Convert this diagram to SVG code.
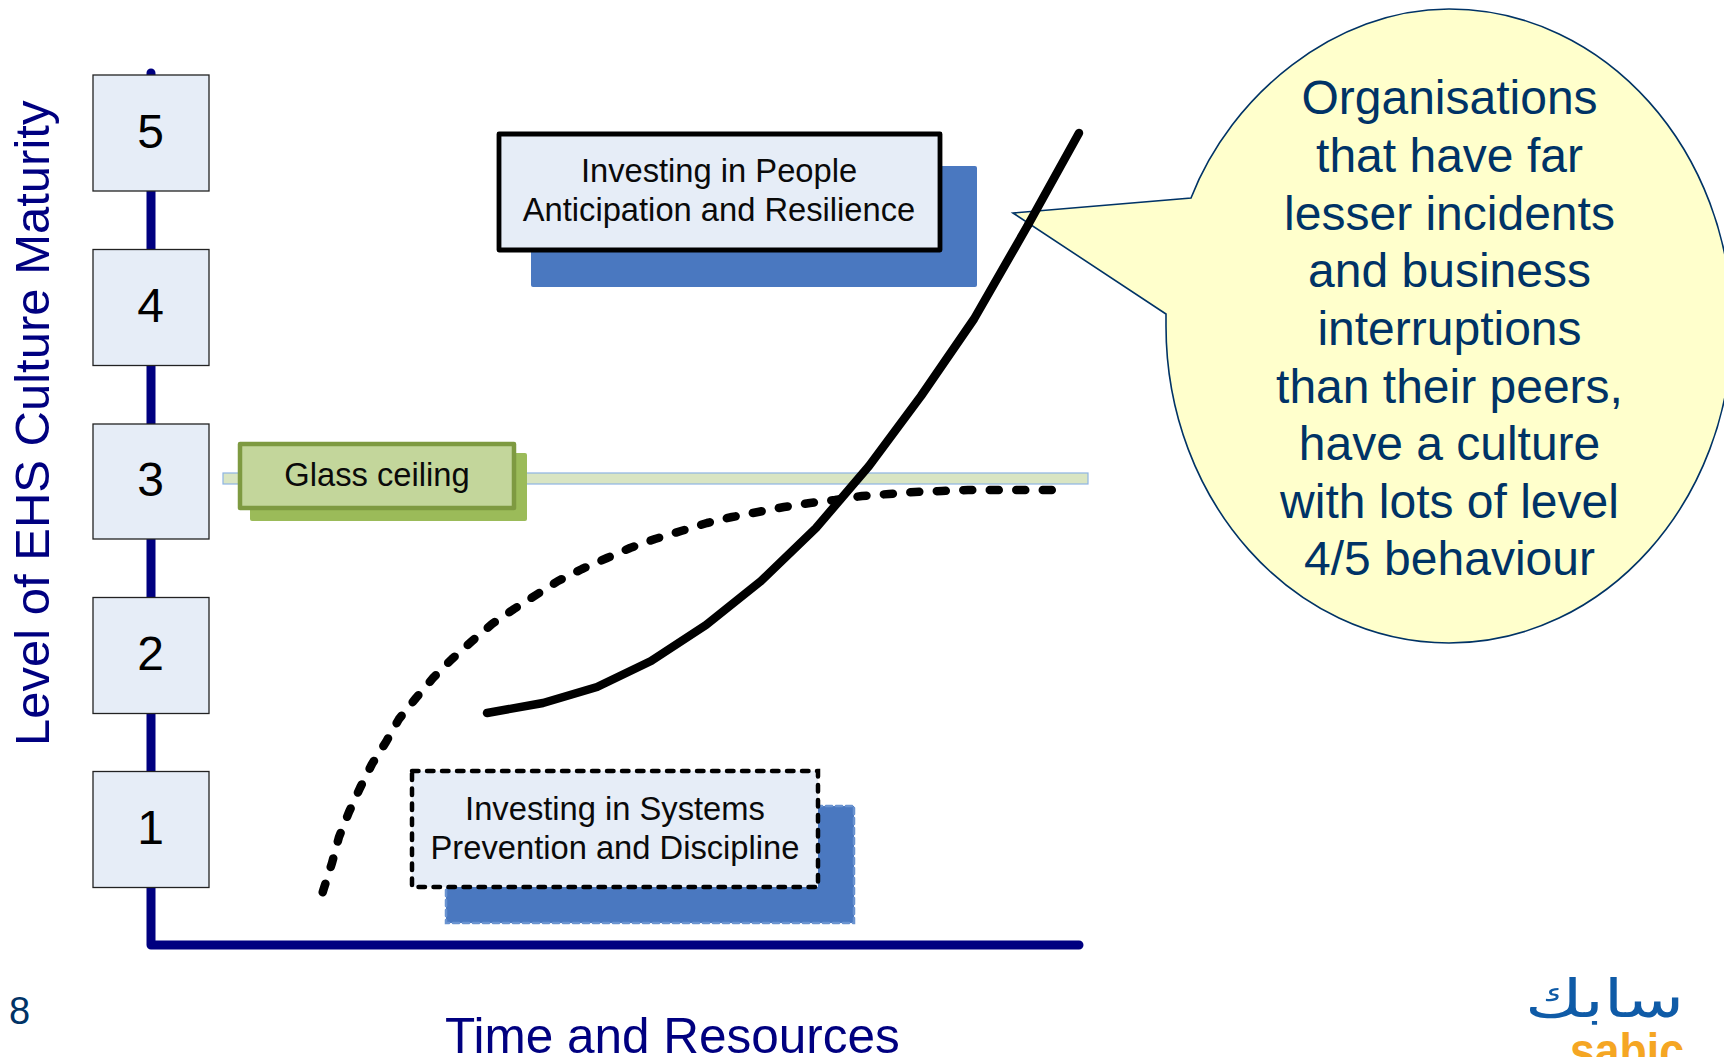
<svg xmlns="http://www.w3.org/2000/svg" width="1724" height="1057" viewBox="0 0 1724 1057">
<style>
text{font-family:"Liberation Sans",Arial,sans-serif}
.lvl{fill:#e6edf7;stroke:#222;stroke-width:1.3}
.num{font-size:48px;text-anchor:middle;fill:#000}
.lab{font-size:32.7px;text-anchor:middle;fill:#0a0a0a}
.axis{fill:#000080}
.call{font-size:48px;text-anchor:middle;fill:#003366}
.curve{fill:none;stroke:#000;stroke-width:8.5;stroke-linecap:round;stroke-linejoin:round}
</style>
<g id="connectors">
<path d="M151 73V945H1079" fill="none" stroke="#000080" stroke-width="9" stroke-linecap="round" stroke-linejoin="round"/>
</g>
<g id="glass-band"><rect x="223" y="473" width="865" height="11" fill="#d9e5c3" stroke="#8eb4e3" stroke-width="1.2"/></g>
<g id="curves">
<path id="systems-curve" class="curve" stroke-dasharray="9 17.500" d="M322.700 892.300L324 888L332 863L339 837L349 812L360 788L372 764L386 742L399 719L416 698L433 678L452 659L471 642L492 624L514 609L536 595L558 581L582 569L607 558L630 548L655 539L681 531L707 523L732 517L758 512L784 507L810 503L835 500L862 496L889 494L915 492L942 491L968 490L995 490L1022 490L1052 490"/>
<path id="people-curve-low" class="curve" d="M487 713L543 703L597 687L651 661L706 625L761 581L816 528L869 466L921 396L974 319L1028 225"/>
</g>
<g id="callout">
<path d="M1013 213L1191 198C1231 95 1335 9 1449 9C1605 9 1732 151 1732 326C1732 501 1605 643 1449 643C1293 643 1166 501 1166 326C1166 322 1166 318 1166 314Z" fill="#ffffcc" stroke="#003366" stroke-width="1.6"/>
<text class="call" x="1449.500" y="114">Organisations</text>
<text class="call" x="1449.500" y="172">that have far</text>
<text class="call" x="1449.500" y="230">lesser incidents</text>
<text class="call" x="1449.500" y="287">and business</text>
<text class="call" x="1449.500" y="345">interruptions</text>
<text class="call" x="1449.500" y="403">than their peers,</text>
<text class="call" x="1449.500" y="460">have a culture</text>
<text class="call" x="1449.500" y="518">with lots of level</text>
<text class="call" x="1449.500" y="575">4/5 behaviour</text>
</g>
<path id="people-curve-top" class="curve" d="M1028 225L1079 133"/>
<g id="level-5"><rect class="lvl" x="93" y="75" width="116" height="116"/><text class="num" x="150.500" y="148">5</text></g>
<g id="level-4"><rect class="lvl" x="93" y="249.500" width="116" height="116"/><text class="num" x="150.500" y="322">4</text></g>
<g id="level-3"><rect class="lvl" x="93" y="424" width="116" height="115"/><text class="num" x="150.500" y="496">3</text></g>
<g id="level-2"><rect class="lvl" x="93" y="597.500" width="116" height="116"/><text class="num" x="150.500" y="670">2</text></g>
<g id="level-1"><rect class="lvl" x="93" y="771.500" width="116" height="116"/><text class="num" x="150.500" y="844">1</text></g>
<g id="glass-ceiling">
<rect x="250" y="453" width="277" height="68" rx="2" fill="#9bbb59"/>
<rect x="240" y="444" width="274" height="64" fill="#c3d69b" stroke="#7e9a41" stroke-width="4.500" stroke-linejoin="round"/>
<text class="lab" x="377" y="486">Glass ceiling</text>
</g>
<g id="investing-people">
<rect x="531" y="166" width="446" height="121" rx="2" fill="#4a78c0"/>
<rect x="499" y="134" width="441" height="116" fill="#e6edf7" stroke="#000" stroke-width="4.800" stroke-linejoin="round"/>
<text class="lab" x="719" y="182">Investing in People</text>
<text class="lab" x="719" y="221">Anticipation and Resilience</text>
</g>
<g id="investing-systems">
<rect x="446" y="806" width="408" height="117" fill="#4a78c0" stroke="#6a93d0" stroke-width="2.500" stroke-dasharray="6 4" stroke-linecap="round"/>
<rect x="412" y="771" width="406" height="116" fill="#e6edf7" stroke="#000" stroke-width="4.500" stroke-dasharray="6.500 8.500" stroke-linecap="round"/>
<text class="lab" x="615" y="820">Investing in Systems</text>
<text class="lab" x="615" y="859">Prevention and Discipline</text>
</g>
<text id="y-label" class="axis" font-size="49" transform="translate(49 746) rotate(-90)">Level of EHS Culture Maturity</text>
<text id="x-label" class="axis" font-size="49.500" x="445" y="1053">Time and Resources</text>
<text id="page" x="9" y="1024" font-size="38" fill="#003366">8</text>
<g id="logo">
<text x="1525" y="1017" font-size="52" style="font-family:'DejaVu Sans',sans-serif" fill="#0f5ba7" textLength="159" lengthAdjust="spacingAndGlyphs">سابك</text>
<text x="1570" y="1068" font-size="50" font-weight="bold" fill="#f5a623" textLength="114" lengthAdjust="spacingAndGlyphs">sabic</text>
</g>
</svg>
